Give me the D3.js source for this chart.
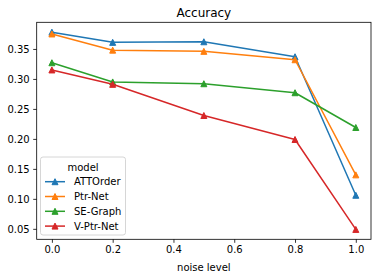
<!DOCTYPE html>
<html>
<head>
<meta charset="utf-8">
<script src="https://cdn.jsdelivr.net/npm/d3@7"></script>
<style>
  body { margin: 0; background: #fff; }
  text { font-family: "DejaVu Sans", sans-serif; }
</style>
</head>
<body>
<div id="canvas"></div>
<script>
// ////////// DATA /////////////
var noise = [0.0, 0.2, 0.5, 0.8, 1.0];
var models = ["ATTOrder", "Ptr-Net", "SE-Graph", "V-Ptr-Net"];
var attorder = [0.378, 0.361, 0.362, 0.337, 0.106];
var ptrnet = [0.375, 0.348, 0.346, 0.332, 0.140];
var segraph = [0.327, 0.295, 0.292, 0.277, 0.219];
var vptrnet = [0.315, 0.291, 0.239, 0.199, 0.049];
var xTicks = [0.0, 0.2, 0.4, 0.6, 0.8, 1.0];
var yTicks = [0.05, 0.10, 0.15, 0.20, 0.25, 0.30, 0.35];

var seriesValues = [attorder, ptrnet, segraph, vptrnet];
var colors = ["#1f77b4", "#ff7f0e", "#2ca02c", "#d62728"];

///////// GLOBAL VARS //////////
var W = 381, H = 278;
var margin = { top: 22.3, right: 10, bottom: 38.7, left: 36.7 };
var width = W - margin.left - margin.right,
  height = H - margin.top - margin.bottom;

var svg = d3.select("#canvas")
  .append("svg")
  .attr("width", W)
  .attr("height", H);

var g = svg.append("g")
  .attr("transform", `translate(${margin.left},${margin.top})`);

// scales with matplotlib-style 5% margins
var allVals = seriesValues.flat();
var yMin = d3.min(allVals), yMax = d3.max(allVals), yPad = (yMax - yMin) * 0.05;

var x = d3.scaleLinear()
  .domain([-0.05, 1.05])
  .range([0, width]);

var y = d3.scaleLinear()
  .domain([yMin - yPad, yMax + yPad])
  .range([height, 0]);

// axes
var xAxis = g.append("g")
  .attr("transform", `translate(0,${height})`)
  .call(d3.axisBottom(x).tickValues(xTicks).tickFormat(d3.format(".1f")).tickSizeOuter(0).tickSize(3.5).tickPadding(3.5));

var yAxis = g.append("g")
  .call(d3.axisLeft(y).tickValues(yTicks).tickFormat(d3.format(".2f")).tickSizeOuter(0).tickSize(3.5).tickPadding(3.5));

[xAxis, yAxis].forEach(a => {
  a.select(".domain").remove();
  a.selectAll("line").attr("stroke", "#000").attr("stroke-width", 0.8);
  a.selectAll("text").attr("font-size", 10).attr("fill", "#000")
    .style("font-family", "DejaVu Sans, sans-serif");
});

// lines + markers
var line = d3.line()
  .x((d, i) => x(noise[i]))
  .y(d => y(d));

var tri = d3.symbol().type(d3.symbolTriangle).size(24);

function triPath(s) {
  // matplotlib '^' : vertices (0,-s),(-s,s),(s,s)
  return `M0,${-s}L${-s},${s}L${s},${s}Z`;
}

seriesValues.forEach((vals, k) => {
  g.append("path")
    .datum(vals)
    .attr("fill", "none")
    .attr("stroke", colors[k])
    .attr("stroke-width", 1.5)
    .attr("stroke-linejoin", "round")
    .attr("d", line);

  g.selectAll(".m" + k)
    .data(vals)
    .join("path")
    .attr("class", "m" + k)
    .attr("d", triPath(3))
    .attr("transform", (d, i) => `translate(${x(noise[i])},${y(d)})`)
    .attr("fill", colors[k])
    .attr("stroke", colors[k])
    .attr("stroke-width", 1);
});

// frame
g.append("rect")
  .attr("width", width)
  .attr("height", height)
  .attr("fill", "none")
  .attr("stroke", "#000")
  .attr("stroke-width", 0.8);

// title + label
svg.append("text")
  .attr("x", margin.left + width / 2)
  .attr("y", 17)
  .attr("text-anchor", "middle")
  .attr("font-size", 12)
  .text("Accuracy");

svg.append("text")
  .attr("x", margin.left + width / 2)
  .attr("y", 271)
  .attr("text-anchor", "middle")
  .attr("font-size", 10)
  .text("noise level");

// legend
var legend = svg.append("g")
  .attr("transform", "translate(40.5,157)");

legend.append("rect")
  .attr("width", 85)
  .attr("height", 78)
  .attr("rx", 2.5)
  .attr("fill", "#fff")
  .attr("fill-opacity", 0.8)
  .attr("stroke", "#cccccc")
  .attr("stroke-width", 0.8);

legend.append("text")
  .attr("x", 42.5)
  .attr("y", 13.5)
  .attr("text-anchor", "middle")
  .attr("font-size", 10)
  .text("model");

models.forEach((m, i) => {
  var cy = 24.7 + i * 14.8;
  legend.append("line")
    .attr("x1", 4.5).attr("x2", 24.5)
    .attr("y1", cy).attr("y2", cy)
    .attr("stroke", colors[i])
    .attr("stroke-width", 1.5);
  legend.append("path")
    .attr("d", triPath(3))
    .attr("transform", `translate(14.5,${cy})`)
    .attr("fill", colors[i])
    .attr("stroke", colors[i]);
  legend.append("text")
    .attr("x", 33.5)
    .attr("y", cy + 3.6)
    .attr("font-size", 10)
    .text(m);
});
</script>
</body>
</html>
